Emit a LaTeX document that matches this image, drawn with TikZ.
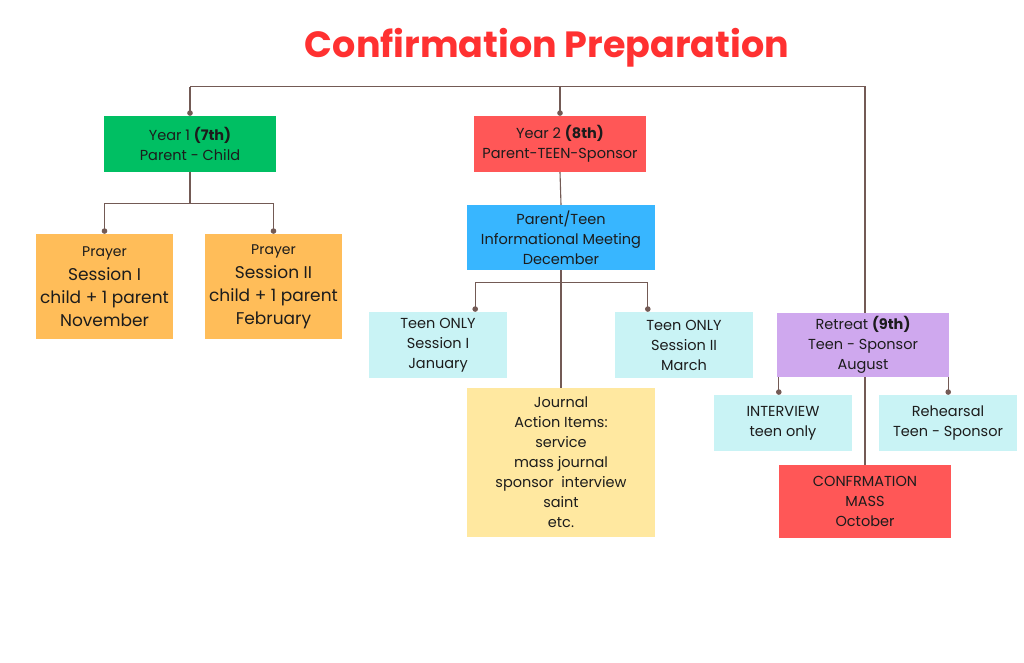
\documentclass[tikz,border=0pt]{standalone}
\usepackage{fontspec}
\setmainfont{Poppins}
\usepackage{tikz}
\usetikzlibrary{arrows.meta}
\usetikzlibrary{positioning}
\definecolor{linebrown}{HTML}{735A55}
\definecolor{titlered}{HTML}{FF3131}
\definecolor{boxgreen}{HTML}{00BF63}
\definecolor{boxred}{HTML}{FF5757}
\definecolor{boxorange}{HTML}{FFBD59}
\definecolor{boxblue}{HTML}{38B6FF}
\definecolor{boxcyan}{HTML}{C9F3F5}
\definecolor{boxyellow}{HTML}{FFE8A0}
\definecolor{boxpurple}{HTML}{CFA8EE}
\definecolor{inkdark}{HTML}{1C1C1C}
\tikzset{
  box/.style={rectangle, inner sep=0pt, align=center, text=inkdark,
    font=\fontsize{14.5}{20}\selectfont},
  link/.style={draw=linebrown, line width=1.1pt},
  dotend/.style={-{Circle[length=5.5pt,width=5.5pt]}}
}

\begin{document}
\begin{tikzpicture}[x=1pt,y=-1pt]
	\useasboundingbox (0,0) rectangle (1024,663);
	\node[font=\fontsize{36.5}{40}\bfseries, text=titlered] (T) at (547,48) {Confirmation Preparation};
	% year boxes
	\node[box, fill=boxgreen, minimum width=172, minimum height=56] (Y1) at (190,144) {Year 1 \textbf{(7th)}\\Parent - Child};
	\node[box, fill=boxred, minimum width=172, minimum height=56] (Y2) at (560,144) {Year 2 \textbf{(8th)}\\Parent-TEEN-Sponsor};
	\node[box, fill=boxpurple, minimum width=172, minimum height=64] (RT) at (863,345) {Retreat \textbf{(9th)}\\Teen - Sponsor\\August};
	% year 1
	\node[box, fill=boxorange, minimum width=137, minimum height=105, font=\fontsize{17}{23}\selectfont] (P1) at (104.5,286.5) {{\fontsize{14}{20}\selectfont Prayer}\\[1pt]Session I\\child + 1 parent\\November};
	\node[box, fill=boxorange, minimum width=137, minimum height=105, font=\fontsize{17}{23}\selectfont] (P2) at (273.5,286.5) {{\fontsize{14}{20}\selectfont Prayer}\\[1pt]Session II\\child + 1 parent\\February};
	% year 2
	\node[box, fill=boxblue, minimum width=188, minimum height=65] (PT) at (561,237.5) {Parent/Teen\\Informational Meeting\\December};
	\node[box, fill=boxcyan, minimum width=138, minimum height=66] (TO1) at (438,345) {Teen ONLY\\Session I\\January};
	\node[box, fill=boxcyan, minimum width=138, minimum height=66] (TO2) at (684,345) {Teen ONLY\\Session II\\March};
	\node[box, fill=boxyellow, minimum width=188, minimum height=149] (J) at (561,462.5) {Journal\\Action Items:\\service\\mass journal\\sponsor\ \ interview\\saint\\etc.};
	% year 3
	\node[box, fill=boxcyan, minimum width=138, minimum height=56] (IV) at (783,423) {INTERVIEW\\teen only};
	\node[box, fill=boxcyan, minimum width=138, minimum height=56] (RH) at (948,423) {Rehearsal\\Teen - Sponsor};
	\node[box, fill=boxred, minimum width=172, minimum height=73] (CM) at (865,501.5) {CONFRMATION\\MASS\\October};
	% connectors
	\draw[link, dotend] (Y1.north) ++(0,-29) coordinate (bus) -- (Y1.north);
	\draw[link] (bus) -| ([xshift=2pt]RT.north);
	\draw[link, dotend] (bus -| Y2.north) -- (Y2.north);
	\draw[link, dotend] (Y1.south) ++(0,31) -| (P1.north);
	\draw[link, dotend] (Y1.south) ++(0,31) -| (P2.north);
	\draw[link] (Y1.south) -- ++(0,31);
	\draw[link] (Y2.south) -- (PT.north);
	\draw[link] (PT.south) -- (J.north);
	\draw[link, dotend] (PT.south) ++(0,12) -| ([xshift=-32pt]TO1.north east);
	\draw[link, dotend] (PT.south) ++(0,12) -| ([xshift=33pt]TO2.north west);
	\draw[link, dotend] ([xshift=2pt]RT.south west) -- ([xshift=2pt]RT.south west |- IV.north);
	\draw[link, dotend] ([xshift=-1pt]RT.south east) -- ([xshift=-1pt]RT.south east |- RH.north);
	\draw[link] ([xshift=2pt]RT.south) -- ([xshift=2pt]RT.south |- CM.north);
\end{tikzpicture}
\end{document}
